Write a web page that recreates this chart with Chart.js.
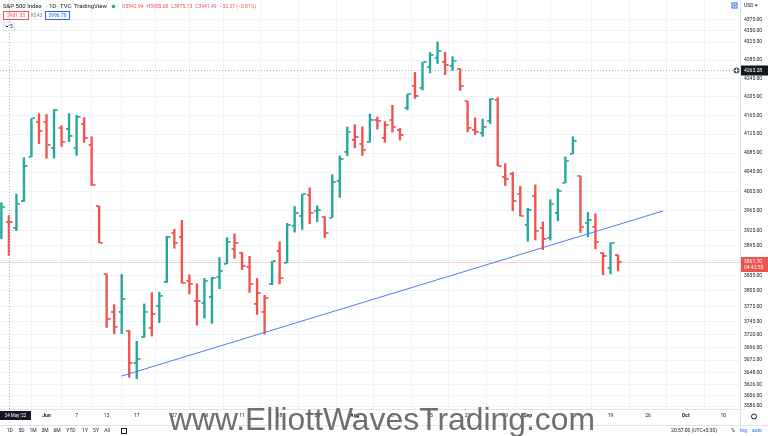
<!DOCTYPE html>
<html lang="en">
<head>
<meta charset="UTF-8">
<title>S&amp;P 500 Index - 1D</title>
<script src="https://cdn.jsdelivr.net/npm/chart.js"></script>
<style>
    html, body { margin: 0; padding: 0; background: #fff; }
    #chart { display: block; }
</style>
</head>
<body>
<canvas id="chart" width="768" height="436"></canvas>
<script>
// daily OHLC, S&P 500 (TVC)
const dates = ['2022-05-23','2022-05-24','2022-05-25','2022-05-26','2022-05-27','2022-05-31',
    '2022-06-01','2022-06-02','2022-06-03','2022-06-06','2022-06-07','2022-06-08','2022-06-09','2022-06-10',
    '2022-06-13','2022-06-14','2022-06-15','2022-06-16','2022-06-17','2022-06-21','2022-06-22','2022-06-23',
    '2022-06-24','2022-06-27','2022-06-28','2022-06-29','2022-06-30','2022-07-01','2022-07-05','2022-07-06',
    '2022-07-07','2022-07-08','2022-07-11','2022-07-12','2022-07-13','2022-07-14','2022-07-15','2022-07-18',
    '2022-07-19','2022-07-20','2022-07-21','2022-07-22','2022-07-25','2022-07-26','2022-07-27','2022-07-28',
    '2022-07-29','2022-08-01','2022-08-02','2022-08-03','2022-08-04','2022-08-05','2022-08-08','2022-08-09',
    '2022-08-10','2022-08-11','2022-08-12','2022-08-15','2022-08-16','2022-08-17','2022-08-18','2022-08-19',
    '2022-08-22','2022-08-23','2022-08-24','2022-08-25','2022-08-26','2022-08-29','2022-08-30','2022-08-31',
    '2022-09-01','2022-09-02','2022-09-06','2022-09-07','2022-09-08','2022-09-09','2022-09-12','2022-09-13',
    '2022-09-14','2022-09-15','2022-09-16','2022-09-19','2022-09-20'];
const opens = [3919.42,3942.94,3929.59,3984.60,4077.43,4151.09,4149.78,4095.41,4137.57,4134.72,4096.47,4147.12,
    4101.65,3974.39,3838.15,3763.52,3764.05,3728.18,3665.90,3715.31,3733.89,3774.71,3821.75,3920.76,3913.00,
    3825.09,3785.99,3781.00,3792.61,3831.98,3858.85,3888.26,3880.94,3851.95,3779.67,3763.99,3818.00,3883.79,
    3860.73,3935.32,3955.47,3998.43,3965.72,3953.22,3951.43,4026.13,4087.33,4112.38,4104.21,4107.96,4154.85,
    4115.87,4155.93,4133.11,4181.02,4227.40,4225.02,4269.37,4290.46,4280.40,4273.13,4266.31,4195.08,4133.09,
    4126.55,4153.26,4198.74,4034.58,4041.25,4000.67,3936.73,3994.66,3930.89,3909.43,3959.94,4022.94,4083.67,
    4037.12,3940.73,3932.41,3880.95,3849.91,3875.23];
const highs = [3981.88,3955.68,3999.33,4075.14,4158.49,4168.34,4166.54,4177.51,4142.67,4168.78,4164.86,4160.14,
    4119.10,3974.39,3838.15,3778.18,3837.56,3728.18,3707.71,3779.65,3801.79,3802.58,3913.65,3927.72,3945.86,
    3836.50,3818.99,3829.82,3832.19,3870.91,3910.63,3918.50,3880.94,3873.41,3829.44,3796.41,3863.62,3902.44,
    3939.81,3974.13,3999.29,4012.44,3975.30,3953.22,4039.56,4078.95,4140.15,4144.95,4140.47,4167.66,4161.29,
    4151.58,4186.62,4137.30,4211.03,4257.91,4280.47,4301.79,4325.28,4302.18,4292.53,4266.31,4195.08,4159.77,
    4156.56,4200.54,4203.04,4062.99,4044.98,4015.37,3970.23,4018.43,3942.55,3987.89,4010.50,4076.81,4119.28,
    4037.12,3961.94,3959.14,3880.95,3900.45,3876.01];
const lows = [3909.04,3875.13,3925.03,3984.60,4077.43,4104.88,4073.85,4074.37,4098.67,4109.18,4080.19,4107.20,
    4017.17,3900.16,3734.30,3722.30,3722.30,3639.77,3636.87,3715.31,3717.69,3743.52,3821.75,3889.66,3820.14,
    3799.02,3738.67,3752.10,3742.06,3809.37,3858.85,3869.34,3847.22,3802.36,3759.07,3721.56,3817.18,3818.63,
    3860.73,3922.03,3927.64,3938.85,3943.46,3910.74,3951.43,3992.97,4079.22,4096.02,4079.81,4107.96,4135.42,
    4107.31,4128.97,4112.09,4177.26,4201.41,4219.78,4256.90,4277.77,4253.08,4261.98,4218.70,4129.86,4124.03,
    4119.97,4147.59,4057.66,4017.42,3965.21,3954.53,3903.65,3906.21,3886.75,3906.03,3944.81,4022.94,4083.67,
    3921.33,3912.66,3888.28,3837.08,3838.50,3844.40];
const closes = [3973.76,3941.49,3978.73,4057.84,4158.24,4132.15,4101.23,4176.82,4108.54,4121.43,4160.68,4115.77,
    4017.82,3900.86,3749.63,3735.48,3789.99,3666.77,3674.84,3764.79,3759.89,3795.73,3911.74,3900.11,3821.55,
    3818.83,3785.38,3825.33,3831.39,3845.08,3902.62,3899.38,3854.43,3818.80,3801.78,3790.38,3863.16,3830.85,
    3936.69,3959.90,3998.95,3961.63,3966.84,3921.05,4023.61,4072.43,4130.29,4118.63,4091.19,4155.17,4151.94,
    4145.19,4140.06,4122.47,4210.24,4207.27,4280.15,4297.14,4305.20,4274.04,4283.74,4228.48,4137.99,4128.73,
    4140.77,4199.12,4057.66,4030.61,3986.16,3955.00,3966.85,3924.26,3908.19,3979.87,4006.18,4067.36,4110.41,
    3932.69,3946.01,3901.35,3873.33,3899.89,3861.70];
const priorClose = 3901.36;

// trend line drawn on the chart (bar index, price)
const trendIdx = [16, 88];
const trendPrice = [3642, 3965];

const lastPrice = 3861.70;
const crossIdx = 1;
const crossPrice = 4263.28;

const priceTicks = [4375, 4350, 4325, 4285, 4245, 4205, 4165, 4125, 4085, 4045, 4005, 3965, 3925, 3895,
    3865, 3835, 3805, 3775, 3745, 3720, 3696, 3672, 3648, 3626, 3606, 3586];
const timeTickIdx = [6, 10, 14, 18, 23, 27, 32, 37, 42, 47, 52, 57, 62, 67, 70, 76, 81, 86, 91, 96];
const timeTickText = ['Jun', '7', '13', '17', '27', 'Jul', '11', '18', '25', 'Aug', '8', '15', '22', '29',
    'Sep', '12', '19', '26', 'Oct', '10'];
const monthNames = ['Jun', 'Jul', 'Aug', 'Sep', 'Oct'];

const UP = '#26a69a';
const DOWN = '#ef5350';
const FONT = 'Roboto, "Liberation Sans", sans-serif';

// TradingView colours bars against the previous close
const barColors = closes.map((c, i) => c >= (i ? closes[i - 1] : priorClose) ? UP : DOWN);

function tickMark(color, side) {
    const c = document.createElement('canvas');
    c.width = 8;
    c.height = 2;
    const g = c.getContext('2d');
    g.fillStyle = color;
    g.fillRect(side === 'open' ? 1 : 5, 0, 2.5, 1.8);
    return c;
}
const marks = {};
[UP, DOWN].forEach(col => {
    marks[col] = { open: tickMark(col, 'open'), close: tickMark(col, 'close') };
});

const overlay = {
    id: 'overlay',
    beforeDatasetsDraw(chart) {
        const { ctx, chartArea: a, scales: { y } } = chart;
        const py = Math.round(y.getPixelForValue(lastPrice)) + 0.5;
        ctx.save();
        ctx.strokeStyle = 'rgba(239,83,80,0.28)';
        ctx.lineWidth = 1;
        ctx.beginPath();
        ctx.moveTo(a.left, py);
        ctx.lineTo(a.right, py);
        ctx.stroke();
        ctx.restore();
    },
    afterDraw(chart) {
        const { ctx, chartArea: a, scales: { x, y } } = chart;
        const line = (x1, y1, x2, y2) => {
            ctx.beginPath(); ctx.moveTo(x1, y1); ctx.lineTo(x2, y2); ctx.stroke();
        };
        const txt = (s, px, py, size, color, align, weight) => {
            ctx.font = (weight || 'normal') + ' ' + size + 'px ' + FONT;
            ctx.fillStyle = color;
            ctx.textAlign = align || 'left';
            ctx.textBaseline = 'middle';
            ctx.fillText(s, px, py);
        };
        ctx.save();

        // crosshair
        const cx = Math.round(x.getPixelForValue(crossIdx)) + 0.5;
        const cy = Math.round(y.getPixelForValue(crossPrice)) + 0.5;
        ctx.strokeStyle = '#b2b5be';
        ctx.lineWidth = 1;
        ctx.setLineDash([1, 2]);
        line(cx, a.top, cx, a.bottom);
        line(a.left, cy, a.right, cy);
        ctx.setLineDash([]);

        // panel borders
        ctx.strokeStyle = '#e0e3eb';
        line(0, 425.5, 768, 425.5);
        line(a.right + 0.5, a.bottom, a.right + 0.5, 425);

        // price axis labels
        ctx.fillStyle = '#131722';
        ctx.fillRect(a.right + 1, cy - 5, 27, 10);
        txt(crossPrice.toFixed(2), a.right + 4, cy, 5, '#fff');
        ctx.fillStyle = '#50535e';
        ctx.beginPath();
        ctx.arc(a.right - 3.5, cy, 3, 0, Math.PI * 2);
        ctx.fill();
        ctx.strokeStyle = '#fff';
        line(a.right - 5.5, cy, a.right - 1.5, cy);
        line(a.right - 3.5, cy - 2, a.right - 3.5, cy + 2);

        const ly = Math.round(y.getPixelForValue(lastPrice));
        ctx.fillStyle = DOWN;
        ctx.fillRect(a.right + 1, ly - 5, 27, 15);
        txt(lastPrice.toFixed(2), a.right + 4, ly, 5, '#fff');
        txt('04:42:55', a.right + 4, ly + 6, 5, '#fff');

        txt('USD ▾', a.right + 4, 5.5, 5, '#131722');
        ctx.fillStyle = '#2962ff';
        ctx.fillRect(731.5, 2.5, 6, 6);
        ctx.strokeStyle = '#fff';
        ctx.strokeRect(733, 4, 3, 3);

        // time axis crosshair label
        ctx.fillStyle = '#131722';
        ctx.fillRect(0, 411, 31, 9);
        txt("24 May '22", 15.5, 415.5, 4.5, '#fff', 'center');

        // gear
        ctx.strokeStyle = '#131722';
        ctx.beginPath();
        ctx.arc(754, 416.5, 2.5, 0, Math.PI * 2);
        ctx.stroke();

        // legend header
        txt('S&P 500 Index', 3, 6.5, 6, '#131722');
        txt('·', 46, 6.5, 6, '#131722');
        txt('1D', 49, 6.5, 6, '#131722');
        txt('·', 57, 6.5, 6, '#131722');
        txt('TVC', 60, 6.5, 6, '#131722');
        txt('·', 71, 6.5, 6, '#131722');
        txt('TradingView', 74, 6.5, 6, '#131722');
        ctx.fillStyle = '#22ab94';
        ctx.beginPath();
        ctx.arc(113.5, 6.5, 1.8, 0, Math.PI * 2);
        ctx.fill();

        const o = opens[crossIdx], h = highs[crossIdx], l = lows[crossIdx], c = closes[crossIdx];
        const chg = c - closes[crossIdx - 1];
        const parts = [['O', o.toFixed(2)], ['H', h.toFixed(2)], ['L', l.toFixed(2)], ['C', c.toFixed(2)]];
        let px = 122;
        ctx.font = 'normal 5px ' + FONT;
        parts.forEach(([k, v]) => {
            txt(k, px, 6.5, 5, '#787b86');
            px += ctx.measureText(k).width;
            txt(v, px, 6.5, 5, DOWN);
            px += ctx.measureText(v).width + 3;
        });
        txt('−' + Math.abs(chg).toFixed(2) + ' (−' + Math.abs(chg / closes[crossIdx - 1] * 100).toFixed(2) + '%)',
            px, 6.5, 5, DOWN);

        ctx.strokeStyle = DOWN;
        ctx.strokeRect(3.5, 11.5, 25, 8);
        txt('3901.33', 16, 15.5, 5, DOWN, 'center');
        txt('95.43', 36.5, 15.5, 4.5, '#787b86', 'center');
        ctx.strokeStyle = '#2962ff';
        ctx.strokeRect(45.5, 11.5, 24, 8);
        txt('3996.76', 57.5, 15.5, 5, '#2962ff', 'center');

        ctx.strokeStyle = '#e0e3eb';
        ctx.strokeRect(3.5, 22.5, 11, 8);
        ctx.strokeStyle = '#131722';
        line(5.5, 25.5, 7, 27);
        line(7, 27, 8.5, 25.5);
        txt('5', 10, 26.5, 5, '#131722');

        // bottom toolbar
        const ranges = ['1D', '5D', '1M', '3M', '6M', 'YTD', '1Y', '5Y', 'All'];
        const rangeX = [9.8, 21.5, 33, 45, 57, 71, 85, 96, 107];
        ranges.forEach((r, i) => txt(r, rangeX[i], 430.5, 5, '#131722', 'center'));
        ctx.strokeStyle = '#131722';
        ctx.strokeRect(121.5, 428.5, 5, 5);
        txt('20:57:00 (UTC+5:30)', 694, 430.5, 5, '#131722', 'center');
        txt('%', 733, 430.5, 5, '#131722', 'center');
        txt('log', 743.5, 430.5, 5, '#2962ff', 'center');
        txt('auto', 757, 430.5, 5, '#2962ff', 'center');

        // watermark
        const wm = 'www.ElliottWavesTrading.com';
        ctx.font = '32px "Liberation Sans", Arial, sans-serif';
        const w = ctx.measureText(wm).width;
        ctx.fillStyle = '#6e6e6e';
        ctx.textAlign = 'left';
        ctx.textBaseline = 'alphabetic';
        ctx.translate(169, 430);
        ctx.scale(426 / w, 1);
        ctx.fillText(wm, 0, 0);

        ctx.restore();
    }
};

new Chart(document.getElementById('chart'), {
    type: 'bar',
    data: {
        datasets: [
            {
                type: 'line',
                data: trendIdx.map((v, i) => ({ x: v, y: trendPrice[i] })),
                borderColor: '#4a7ef0',
                borderWidth: 1,
                pointRadius: 0,
                order: 0
            },
            {
                type: 'scatter',
                data: dates.map((d, i) => ({ x: i, y: opens[i] })),
                pointStyle: barColors.map(col => marks[col].open),
                pointRadius: 3,
                order: 1
            },
            {
                type: 'scatter',
                data: dates.map((d, i) => ({ x: i, y: closes[i] })),
                pointStyle: barColors.map(col => marks[col].close),
                pointRadius: 3,
                order: 1
            },
            {
                type: 'bar',
                data: dates.map((d, i) => ({ x: i, y: [lows[i], highs[i]] })),
                backgroundColor: barColors,
                borderWidth: 0,
                barThickness: 1.7,
                grouped: false,
                order: 2
            }
        ]
    },
    options: {
        responsive: false,
        animation: false,
        events: [],
        layout: { autoPadding: false, padding: { top: 0, left: 0, right: 0, bottom: 11 } },
        plugins: {
            legend: { display: false },
            tooltip: { enabled: false }
        },
        scales: {
            x: {
                type: 'linear',
                min: -0.1835,
                max: 98.22,
                offset: false,
                grid: { color: '#f0f3fa', drawTicks: false },
                border: { color: '#e0e3eb' },
                ticks: {
                    padding: 4,
                    color: '#131722',
                    maxRotation: 0,
                    autoSkip: false,
                    font: c => ({
                        family: FONT,
                        size: 5,
                        weight: monthNames.includes(timeTickText[timeTickIdx.indexOf(c.tick ? c.tick.value : -1)]) ? 'bold' : 'normal'
                    }),
                    callback: v => timeTickText[timeTickIdx.indexOf(v)] || ''
                },
                afterBuildTicks: s => { s.ticks = timeTickIdx.map(v => ({ value: v })); },
                afterFit: s => { s.height = 16; s.paddingLeft = 0; s.paddingRight = 0; }
            },
            y: {
                type: 'logarithmic',
                position: 'right',
                min: 3580.7,
                max: 4419.7,
                grid: { color: '#f0f3fa', drawTicks: false },
                border: { color: '#e0e3eb' },
                ticks: {
                    padding: 4,
                    color: '#131722',
                    font: { family: FONT, size: 5 },
                    callback: v => Number(v).toFixed(2)
                },
                afterBuildTicks: s => { s.ticks = priceTicks.map(v => ({ value: v })); },
                afterFit: s => { s.width = 28; s.paddingTop = 0; s.paddingBottom = 0; }
            }
        }
    },
    plugins: [overlay]
});
</script>
</body>
</html>
